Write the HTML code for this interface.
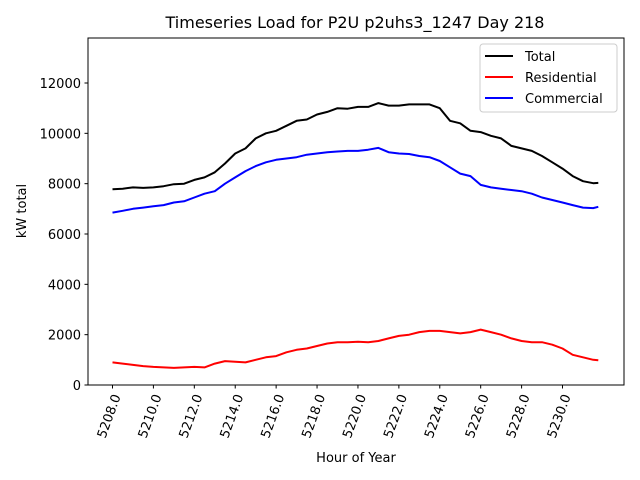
<!DOCTYPE html>
<html><head><meta charset="utf-8"><style>
body{margin:0;background:#fff;}
svg{display:block;font-family:"DejaVu Sans","Liberation Sans",sans-serif;}
</style></head><body>
<svg id="chart" width="640" height="480" viewBox="0 0 640 480">
<rect width="640" height="480" fill="#fff"/>
<text x="355" y="28" font-size="16" text-anchor="middle">Timeseries Load for P2U p2uhs3_1247  Day 218</text>
<g id="grid"></g>
<g id="series"></g>
<rect x="88" y="38" width="536" height="347" fill="none" stroke="#000" stroke-width="1"/>
<g id="axes" font-size="13"></g>
<text x="356" y="462" font-size="13" text-anchor="middle">Hour of Year</text>
<text transform="translate(26,211) rotate(-90)" font-size="13" text-anchor="middle">kW total</text>
<g>
<rect x="480" y="44" width="137" height="68" fill="#fff" fill-opacity="0.8" stroke="#ccc" rx="3"/>
<line x1="485" y1="56" x2="513" y2="56" stroke="#000" stroke-width="2"/>
<text x="525" y="61" font-size="13">Total</text>
<line x1="485" y1="77" x2="513" y2="77" stroke="#f00" stroke-width="2"/>
<text x="525" y="82" font-size="13">Residential</text>
<line x1="485" y1="98" x2="513" y2="98" stroke="#00f" stroke-width="2"/>
<text x="525" y="103" font-size="13">Commercial</text>
</g>
</svg>
<script>
const hours = [5208,5208.5,5209,5209.5,5210,5210.5,5211,5211.5,5212,5212.5,5213,5213.5,5214,5214.5,5215,5215.5,5216,5216.5,5217,5217.5,5218,5218.5,5219,5219.5,5220,5220.5,5221,5221.5,5222,5222.5,5223,5223.5,5224,5224.5,5225,5225.5,5226,5226.5,5227,5227.5,5228,5228.5,5229,5229.5,5230,5230.5,5231,5231.5,5231.75];
const totalLoad = [7780,7800,7850,7830,7850,7900,7980,8000,8150,8250,8450,8800,9200,9400,9800,10000,10100,10300,10500,10550,10750,10850,11000,10980,11050,11050,11200,11100,11100,11150,11150,11150,11000,10500,10400,10100,10050,9900,9800,9500,9400,9300,9100,8850,8600,8300,8100,8020,8030];
const residentialLoad = [900,850,800,750,720,700,680,700,720,700,850,950,920,900,1000,1100,1150,1300,1400,1450,1550,1650,1700,1700,1720,1700,1750,1850,1950,2000,2100,2150,2150,2100,2050,2100,2200,2100,2000,1850,1750,1700,1700,1600,1450,1200,1100,1000,980];
const commercialLoad = [6850,6920,7000,7050,7100,7150,7250,7300,7450,7600,7700,8000,8250,8500,8700,8850,8950,9000,9050,9150,9200,9250,9280,9300,9300,9350,9420,9250,9200,9180,9100,9050,8900,8650,8400,8300,7950,7850,7800,7750,7700,7600,7450,7350,7250,7150,7050,7030,7080];
const xTicks = [5208,5210,5212,5214,5216,5218,5220,5222,5224,5226,5228,5230];
const yTicks = [0,2000,4000,6000,8000,10000,12000];

const NS='http://www.w3.org/2000/svg';
const xs = h => 112.5 + (h-5208)*(562.5-112.5)/22;
const ys = v => 385 - v*(385-83)/12000;
const axes=document.getElementById('axes');
const series=document.getElementById('series');
function mk(tag,attrs,parent){const e=document.createElementNS(NS,tag);for(const k in attrs)e.setAttribute(k,attrs[k]);parent.appendChild(e);return e;}
yTicks.forEach(v=>{
  const l=mk('line',{x1:84.5,x2:88,y1:ys(v),y2:ys(v),stroke:'#000'},axes);
  
  
  const t=mk('text',{x:81,y:ys(v)+5,'text-anchor':'end'},axes);
  t.textContent=v;
  
  
});
xTicks.forEach(h=>{
  const x=xs(h);
  const l=mk('line',{x1:x,x2:x,y1:385,y2:388.5,stroke:'#000'},axes);
  
  
  const t=mk('text',{transform:`translate(${x+5},${395}) rotate(-70)`,'text-anchor':'end','dominant-baseline':'central'},axes);
  t.textContent=h.toFixed(1);
  
  
});
function line(vals,color,name){
  const d=vals.map((v,i)=>(i?'L':'M')+xs(hours[i]).toFixed(1)+','+ys(v).toFixed(1)).join('');
  const p=mk('path',{d:d,fill:'none',stroke:color,'stroke-width':2,'stroke-linejoin':'round'},series);
  
  
}
line(totalLoad,'#000','total-line');
line(residentialLoad,'#f00','residential-line');
line(commercialLoad,'#00f','commercial-line');
</script>
</body></html>
